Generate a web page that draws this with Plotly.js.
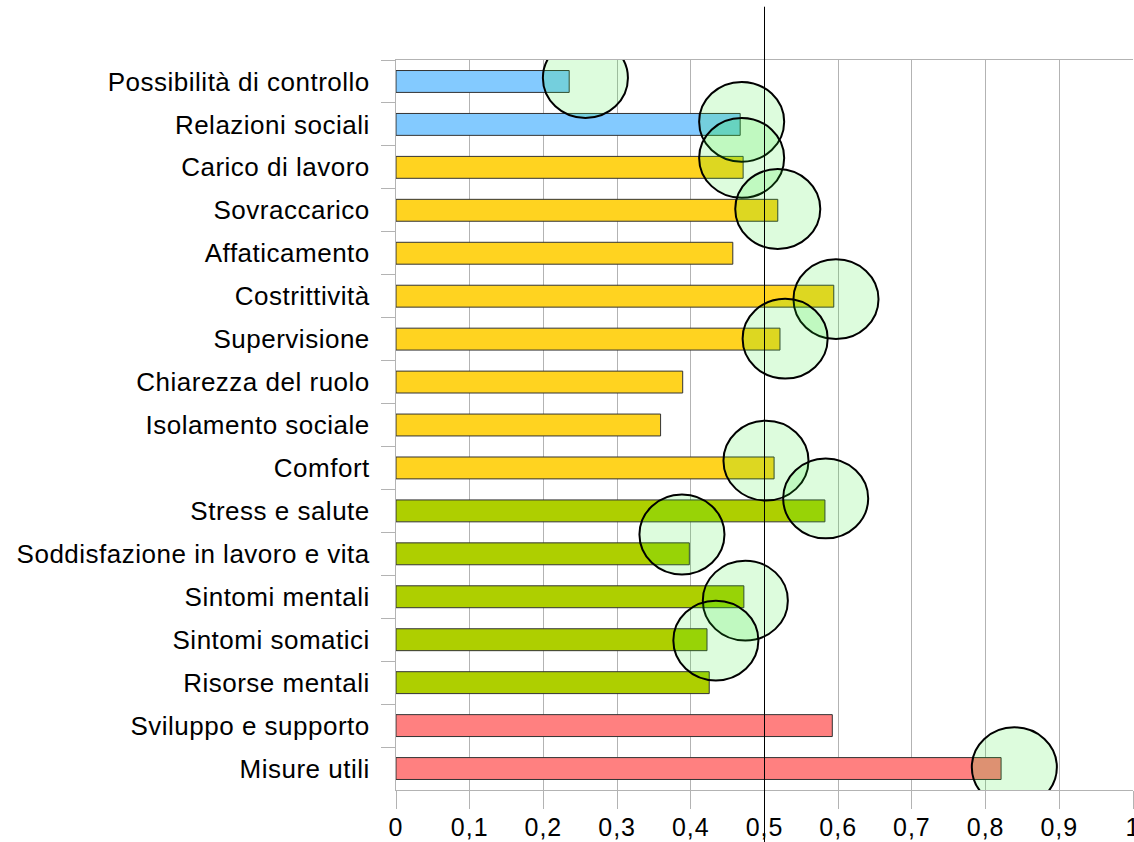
<!DOCTYPE html>
<html>
<head>
<meta charset="utf-8">
<script src="https://cdn.plot.ly/plotly-3.0.1.min.js"></script>
<style>
html,body{margin:0;padding:0;background:#fff;}
#chart{width:1134px;height:842px;}
#chart .ytick text{letter-spacing:0.5px;}
#chart .xtick text{letter-spacing:1px;}
</style>
</head>
<body>
<div id="chart"></div>
<script>
// Categories (top to bottom)
const categories = [
  "Possibilità di controllo",
  "Relazioni sociali",
  "Carico di lavoro",
  "Sovraccarico",
  "Affaticamento",
  "Costrittività",
  "Supervisione",
  "Chiarezza del ruolo",
  "Isolamento sociale",
  "Comfort",
  "Stress e salute",
  "Soddisfazione in lavoro e vita",
  "Sintomi mentali",
  "Sintomi somatici",
  "Risorse mentali",
  "Sviluppo e supporto",
  "Misure utili"
];
const values = [0.235, 0.467, 0.471, 0.518, 0.457, 0.594, 0.521, 0.389, 0.359, 0.513, 0.582, 0.398, 0.472, 0.422, 0.425, 0.592, 0.821];
const groups = ["blue","blue","yellow","yellow","yellow","yellow","yellow","yellow","yellow","yellow","green","green","green","green","green","red","red"];

// Highlight circles: x value and row position (category index, fractional)
const circleX   = [0.257, 0.469, 0.469, 0.518, 0.597, 0.528, 0.502, 0.583, 0.388, 0.474, 0.434, 0.839];
const circleRow = [-0.08, 0.94, 1.78, 2.97, 5.07, 5.99, 8.83, 9.71, 10.55, 12.09, 13.02, 15.97];

const referenceValue = 0.5;
const xTickVals = [0, 0.1, 0.2, 0.3, 0.4, 0.5, 0.6, 0.7, 0.8, 0.9, 1];
const xTickText = ["0", "0,1", "0,2", "0,3", "0,4", "0,5", "0,6", "0,7", "0,8", "0,9", "1"];

const palette = {blue: "#83caff", yellow: "#ffd320", green: "#aecf00", red: "#ff8080"};
const circleRX = 0.0577, circleRY = 0.93;

const shapes = circleX.map((cx, i) => ({
  type: "circle", xref: "x", yref: "y", layer: "above",
  x0: cx - circleRX, x1: cx + circleRX,
  y0: circleRow[i] - circleRY, y1: circleRow[i] + circleRY,
  fillcolor: "rgba(40,235,40,0.155)",
  line: {color: "#000", width: 2}
}));
shapes.push({
  type: "line", xref: "x", yref: "paper", layer: "above",
  x0: referenceValue, x1: referenceValue, y0: -0.075, y1: 1.073,
  line: {color: "#000", width: 1}
});

const trace = {
  type: "bar", orientation: "h",
  x: values, y: categories,
  marker: {color: groups.map(g => palette[g]), line: {color: "#333", width: 1}},
  hoverinfo: "none"
};

const layout = {
  width: 1134, height: 842,
  margin: {l: 396, r: 1, t: 60, b: 52, pad: 0},
  paper_bgcolor: "#fff", plot_bgcolor: "#fff",
  font: {family: "Liberation Sans, Arial, sans-serif", color: "#000", size: 26},
  showlegend: false,
  bargap: 0.49,
  xaxis: {
    range: [0, 1], tickvals: xTickVals, ticktext: xTickText,
    showgrid: true, gridcolor: "#b3b3b3", gridwidth: 1,
    showline: true, linecolor: "#b3b3b3", linewidth: 1, mirror: true,
    ticks: "outside", ticklen: 18, tickcolor: "#b3b3b3",
    ticklabelstandoff: -3, ticklabeloverflow: "allow",
    tickfont: {size: 25}, zeroline: false, fixedrange: true
  },
  yaxis: {
    type: "category", range: [categories.length - 0.5, -0.5],
    showgrid: false, showline: true, linecolor: "#b3b3b3", linewidth: 1,
    ticks: "outside", ticklen: 14, tickcolor: "#b3b3b3", tickson: "boundaries",
    ticklabelstandoff: 20,
    tickfont: {size: 26}, fixedrange: true
  },
  shapes: shapes
};

Plotly.newPlot("chart", [trace], layout, {displayModeBar: false, staticPlot: true});
</script>
</body>
</html>
